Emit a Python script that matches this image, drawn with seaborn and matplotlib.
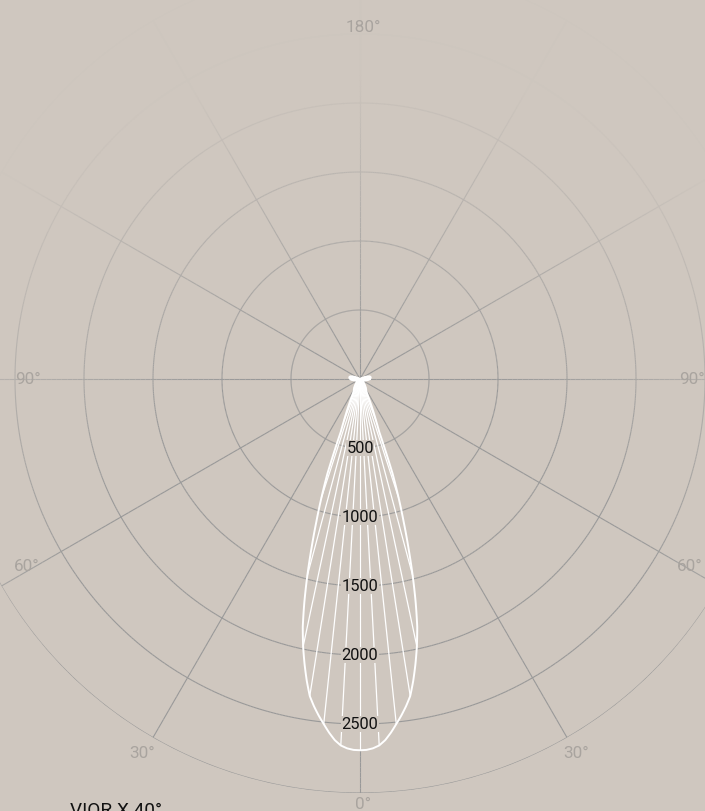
import numpy as np
import pandas as pd
import matplotlib
matplotlib.use("Agg")
import matplotlib.pyplot as plt
import seaborn as sns
from matplotlib.collections import LineCollection

# ---------------- data ----------------
# envelope of the intensity curve (symmetric), gamma in degrees from nadir
gamma_deg = [0, 1, 2, 3, 4, 5, 6, 7, 8, 9, 10, 11, 12, 13, 14, 15, 16, 17, 18, 19,
             20, 21, 22, 23, 24, 25, 26, 27, 28, 29, 30, 33, 36, 39, 42, 45, 48, 51,
             54, 57, 60, 63, 66, 69, 72, 75, 78, 81, 84, 87, 90, 93, 96, 99, 102,
             105, 108, 111, 114, 117, 120]
intensity_cd = [2690, 2688, 2678, 2659, 2623, 2572, 2514, 2457, 2395, 2326, 2221, 2105,
                1982, 1844, 1667, 1475, 1275, 1083, 906, 725, 406, 326, 268, 217, 174,
                138, 116, 105, 98, 94, 88, 78, 66, 54, 44, 36, 31, 28, 26, 25, 25, 26,
                28, 31, 35, 40, 46, 53, 60, 66, 71, 75, 77, 78, 77, 72, 60, 42, 24, 9, 0]
ray_step_deg = 3
ring_values = [500, 1000, 1500, 2000, 2500, 3000]
ring_labels = ["500", "1000", "1500", "2000", "2500"]
spoke_angles = [0, 30, 60, 90, 120, 150, 180, 210, 240, 270, 300, 330]
angle_labels = ["180°", "90°", "90°", "60°", "60°", "30°", "30°", "0°"]
title = "VIOR X 40°"

# ---------------- style ----------------
BG = "#cfc7bf"
GRID = np.array([0.60, 0.60, 0.60])
LABEL_GREY = "#a9a49f"
sns.set_style("white")
plt.rcParams["font.family"] = ["Roboto", "DejaVu Sans"]

W, H = 705, 812
fig = plt.figure(figsize=(W / 100, H / 100), dpi=100, facecolor=BG)

cx, cy = 360.0, 380.0          # polar centre (px from top-left)
rmax = ring_values[-1]
R_px = 414.0                    # pixel radius of rmax
scale = R_px / rmax

ax = fig.add_axes([(cx - R_px) / W, (H - cy - R_px) / H, 2 * R_px / W, 2 * R_px / H],
                  projection="polar")
ax.set_facecolor(BG)
ax.patch.set_alpha(0)
ax.set_theta_zero_location("S")
ax.set_ylim(0, rmax)
ax.spines["polar"].set_visible(False)
ax.grid(False)

bg_rgb = np.array(matplotlib.colors.to_rgb(BG))


def grid_colour(theta, r):
    x = cx + r * scale * np.sin(theta)
    y = cy + r * scale * np.cos(theta)
    d = np.hypot(x - 360.0, y - 650.0)
    w = np.clip((590.0 - d) / 300.0, 0.03, 1.0)
    return bg_rgb[None, :] * (1 - w[:, None]) + GRID[None, :] * w[:, None]


# rings
th = np.linspace(0, 2 * np.pi, 721)
for rv in ring_values:
    pts = np.column_stack([th, np.full_like(th, rv)])
    segs = np.stack([pts[:-1], pts[1:]], axis=1)
    mid_t = (th[:-1] + th[1:]) / 2
    cols = grid_colour(mid_t, np.full_like(mid_t, rv))
    ax.add_collection(LineCollection(segs, colors=cols, linewidths=0.8, zorder=1))

# spokes
rr = np.linspace(0, rmax, 80)
for a in spoke_angles:
    t = np.deg2rad(a)
    pts = np.column_stack([np.full_like(rr, t), rr])
    segs = np.stack([pts[:-1], pts[1:]], axis=1)
    mid_r = (rr[:-1] + rr[1:]) / 2
    cols = grid_colour(np.full_like(mid_r, t), mid_r)
    ax.add_collection(LineCollection(segs, colors=cols, linewidths=0.8, zorder=1))

# ---------------- photometric curve ----------------
g = np.array(gamma_deg, dtype=float)
I = np.array(intensity_cd, dtype=float)
g_full = np.concatenate([-g[::-1], g[1:]])
I_full = np.concatenate([I[::-1], I[1:]])

# rays from the centre to the curve every 3 degrees
sel = (np.round(g_full) % ray_step_deg) == 0
g_ray, I_ray = g_full[sel], I_full[sel]
rays = pd.DataFrame({
    "theta": np.repeat(np.deg2rad(g_ray), 2),
    "r": np.column_stack([np.zeros_like(I_ray), I_ray]).ravel(),
    "ray": np.repeat(np.arange(len(g_ray)), 2),
})
sns.lineplot(data=rays, x="theta", y="r", units="ray", estimator=None, sort=False,
             color="white", linewidth=0.9, ax=ax, legend=False, zorder=3)

env = pd.DataFrame({"theta": np.deg2rad(g_full), "r": I_full})
sns.lineplot(data=env, x="theta", y="r", sort=False, estimator=None,
             color="white", linewidth=1.4, ax=ax, legend=False, zorder=4)
env_line = ax.lines[-1]
env_line.recache(always=True)
env_line.get_path()._interpolation_steps = 12   # draw as polar arcs, not chords

ax.set_xlabel("")
ax.set_ylabel("")
ax.set_xticks([])
ax.set_yticks([])
ax.set_ylim(0, rmax)

# radial labels
for val, lab in zip(ring_values, ring_labels):
    ax.text(0, val, lab, ha="center", va="center", fontsize=11.8, color="#111111",
            zorder=6, bbox=dict(facecolor=BG, edgecolor="none", pad=0.3))

# angle labels (positions as in the reference, px from top-left)
label_pos = [(363, 28), (28, 380), (692, 380), (27, 567), (690, 567),
             (142, 754), (576, 754), (363, 805)]
for lab, (px, py) in zip(angle_labels, label_pos):
    fig.text(px / W, 1 - py / H, lab, ha="center", va="center", fontsize=12.3,
             color=LABEL_GREY)

fig.text(70 / W, (H - 816.5) / H, title, ha="left", va="baseline", fontsize=13.7,
         color="#111111")

fig.savefig("out.png", dpi=100, facecolor=BG)
